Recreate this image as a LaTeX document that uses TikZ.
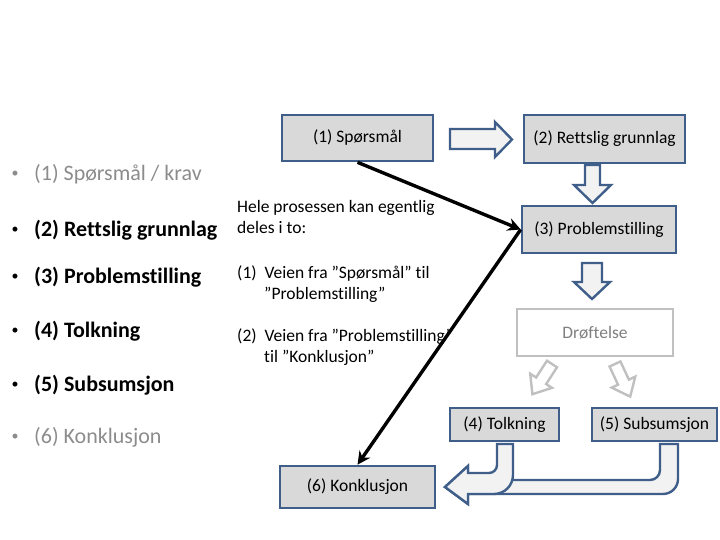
\documentclass[tikz,border=0pt]{standalone}
\usepackage{fontspec}
\setmainfont{Carlito}[Ligatures=NoCommon]
\usetikzlibrary{arrows.meta}
\definecolor{boxblue}{HTML}{3F5F8A}
\definecolor{boxfill}{HTML}{D9D9D9}
\definecolor{arrfill}{HTML}{F2F2F2}
\definecolor{softgray}{HTML}{C0C0C0}
\definecolor{txtgray}{HTML}{8C8C8C}
\tikzset{
  box/.style={draw=boxblue, line width=2.6pt, fill=boxfill, inner sep=0pt,
    font=\fontsize{17.5}{20}\selectfont},
  softbox/.style={draw=softgray, line width=2.6pt, fill=white, inner sep=0pt,
    text=gray, font=\fontsize{17.5}{20}\selectfont},
  hollow/.style={draw=boxblue, line width=2.4pt, fill=arrfill, line join=miter},
  softarrow/.style={draw=softgray, line width=2.4pt, fill=white, line join=miter},
  link/.style={line width=3.4pt, -{Stealth[length=13pt,width=13pt]}},
  listtxt/.style={anchor=west, inner sep=0pt, font=\fontsize{22}{24}\selectfont},
  boldtxt/.style={listtxt, font=\fontsize{22}{24}\selectfont\bfseries},
  bullet/.style={anchor=center, inner sep=0pt, font=\fontsize{14}{16}\selectfont},
  midtxt/.style={anchor=north west, align=left, inner sep=0pt,
    font=\fontsize{17.5}{21}\selectfont}
}
\begin{document}
\begin{tikzpicture}[x=1pt, y=-1pt]
\useasboundingbox (0,0) rectangle (720,540);

% boxes of the process
\node[box, minimum width=151pt, minimum height=46pt] (q1) at (357.5,138) {(1) Spørsmål};
\node[box, minimum width=161pt, minimum height=48pt] (q2) at (604.5,139) {(2) Rettslig grunnlag};
\node[box, minimum width=154pt, minimum height=47pt] (q3) at (599,229.5) {(3) Problemstilling};
\node[softbox, minimum width=156pt, minimum height=47pt] (dr) at (595,332.5) {Drøftelse};
\node[box, minimum width=109pt, minimum height=33pt] (q4) at (504.5,424.5) {(4) Tolkning};
\node[box, minimum width=125pt, minimum height=33pt] (q5) at (654.5,424.5) {(5) Subsumsjon};
\node[box, minimum width=155pt, minimum height=42pt] (q6) at (357.5,487) {(6) Konklusjon};

% block arrows
\draw[hollow] (450,129) -- (495,129) -- (495,122) -- (512,139.5) -- (495,157) -- (495,149) -- (450,149) -- cycle;
\draw[hollow] (585,165) -- (600,165) -- (600,185) -- (611,185) -- (592.5,203) -- (574,185) -- (585,185) -- cycle;
\draw[hollow] (582,263) -- (602,263) -- (602,282) -- (610,282) -- (592,299) -- (574,282) -- (582,282) -- cycle;

% grey arrows out of the discussion
\begin{scope}[shift={(552,364)}, rotate=-33]
  \draw[softarrow] (-6,0) -- (6,0) -- (6,20) -- (13,20) -- (0,36) -- (-13,20) -- (-6,20) -- cycle;
\end{scope}
\begin{scope}[shift={(615,364)}, rotate=25]
  \draw[softarrow] (-6,0) -- (6,0) -- (6,20) -- (13,20) -- (0,36) -- (-13,20) -- (-6,20) -- cycle;
\end{scope}

% u-turn arrows into the conclusion
\draw[hollow] (660,444) -- (660,470) arc[start angle=0, end angle=90, radius=10] -- (468,480)
  -- (468,466) -- (445,487) -- (468,504) -- (468,494) -- (663,494)
  arc[start angle=90, end angle=0, radius=15] -- (678,444) -- cycle;
\draw[hollow] (497,444) -- (497,465) arc[start angle=0, end angle=90, radius=8] -- (468,473)
  -- (468,466) -- (445,487) -- (468,504) -- (468,494) -- (494,494)
  arc[start angle=90, end angle=0, radius=19] -- (513,444) -- cycle;

% black connectors
\draw[link] (q1.south) -- (q3.west);
\draw[link] (q3.west) -- (q6.north);

% list on the left
\node[bullet, text=txtgray] (b1) at (15,174) {•};
\node[listtxt, text=txtgray] (l1) at (34,174) {(1) Spørsmål / krav};
\node[bullet] (b2) at (15,230) {•};
\node[boldtxt] (l2) at (34,230) {(2) Rettslig grunnlag};
\node[bullet] (b3) at (15,277) {•};
\node[boldtxt] (l3) at (34,277) {(3) Problemstilling};
\node[bullet] (b4) at (15,331) {•};
\node[boldtxt] (l4) at (34,331) {(4) Tolkning};
\node[bullet] (b5) at (15,385) {•};
\node[boldtxt] (l5) at (34,385) {(5) Subsumsjon};
\node[bullet, text=txtgray] (b6) at (15,437) {•};
\node[listtxt, text=txtgray] (l6) at (34,437) {(6) Konklusjon};

% text in the middle
\node[midtxt] (intro) at (237,200) {Hele prosessen kan egentlig\\deles i to:};
\node[midtxt] (vei1) at (237,265) {(1)\ \ Veien fra ”Spørsmål” til\\\hspace*{27pt}”Problemstilling”};
\node[midtxt] (vei2) at (237,328) {(2)\ \ Veien fra ”Problemstilling”\\\hspace*{27pt}til ”Konklusjon”};
\end{tikzpicture}
\end{document}
